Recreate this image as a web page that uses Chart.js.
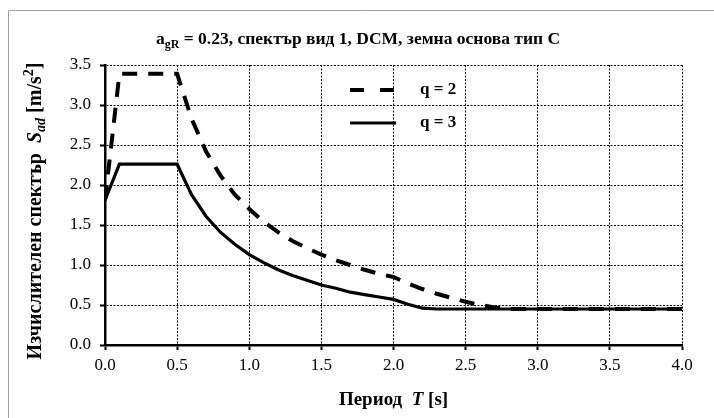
<!DOCTYPE html>
<html>
<head>
<meta charset="utf-8">
<script src="https://cdn.jsdelivr.net/npm/chart.js@4"></script>
<style>
    html, body { margin: 0; padding: 0; background: #fff; overflow: hidden; }
    canvas { display: block; }
</style>
</head>
<body>
<canvas id="spectrumChart" width="714" height="418"></canvas>
<script>
// Period T [s]
const periods = [0.0, 0.1, 0.2, 0.3, 0.4, 0.5, 0.6, 0.7, 0.8, 0.9, 1.0, 1.1, 1.2, 1.3, 1.4, 1.5, 1.6, 1.7, 1.8, 1.9, 2.0,
    2.1, 2.2, 2.3, 2.4, 2.5, 2.6, 2.7, 2.8, 2.9, 3.0, 3.2, 3.4, 3.6, 3.8, 4.0];

// Design spectrum Sad [m/s2], q = 2 (dashed)
const q2Values = [1.81, 3.39, 3.39, 3.39, 3.39, 3.39, 2.83, 2.42, 2.12, 1.88, 1.70, 1.54, 1.41, 1.30, 1.21, 1.13, 1.06, 1.00, 0.94, 0.89, 0.85,
    0.77, 0.70, 0.64, 0.59, 0.54, 0.50, 0.47, 0.45, 0.45, 0.45, 0.45, 0.45, 0.45, 0.45, 0.45];

// Design spectrum Sad [m/s2], q = 3 (solid)
const q3Values = [1.81, 2.26, 2.26, 2.26, 2.26, 2.26, 1.88, 1.61, 1.41, 1.26, 1.13, 1.03, 0.94, 0.87, 0.81, 0.75, 0.71, 0.66, 0.63, 0.60, 0.57,
    0.51, 0.46, 0.45, 0.45, 0.45, 0.45, 0.45, 0.45, 0.45, 0.45, 0.45, 0.45, 0.45, 0.45, 0.45];

const seriesLabels = ['q = 2', 'q = 3'];
const xTicks = [0, 0.5, 1.0, 1.5, 2.0, 2.5, 3.0, 3.5, 4.0];
const yTicks = [0, 0.5, 1.0, 1.5, 2.0, 2.5, 3.0, 3.5];

const serif = '"Liberation Serif", "Times New Roman", serif';

function toPoints(values) {
    return periods.map((t, i) => ({ x: t, y: values[i] }));
}

// draw a row of text pieces (bold / italic / sub / sup) centred at cx
function drawRich(ctx, parts, cx, cy, size) {
    const fontFor = p => {
        const s = p.sub || p.sup ? Math.round(size * 0.68) : size;
        return (p.italic ? 'italic ' : '') + 'bold ' + s + 'px ' + serif;
    };
    let total = 0;
    parts.forEach(p => { ctx.font = fontFor(p); total += ctx.measureText(p.t).width; });
    let x = cx - total / 2;
    ctx.textBaseline = 'alphabetic';
    ctx.textAlign = 'left';
    parts.forEach(p => {
        ctx.font = fontFor(p);
        let dy = 0;
        if (p.sub) dy = size * 0.2;
        if (p.sup) dy = -size * 0.38;
        ctx.fillText(p.t, x, cy + dy);
        x += ctx.measureText(p.t).width;
    });
}

// grey chart-area frame (open to the right and bottom, as in the source image)
const framePlugin = {
    id: 'framePlugin',
    beforeDraw(chart) {
        const ctx = chart.ctx;
        ctx.save();
        ctx.strokeStyle = '#a0a0a0';
        ctx.lineWidth = 1;
        ctx.beginPath();
        ctx.moveTo(8.5, chart.height);
        ctx.lineTo(8.5, 10.5);
        ctx.lineTo(chart.width, 10.5);
        ctx.stroke();
        ctx.restore();
    }
};

const textPlugin = {
    id: 'textPlugin',
    afterDraw(chart) {
        const ctx = chart.ctx;
        const area = chart.chartArea;
        ctx.save();
        ctx.fillStyle = '#000';

        // chart title
        drawRich(ctx, [
            { t: 'a' }, { t: 'gR', sub: true },
            { t: ' = 0.23, спектър вид 1, DCM, земна основа тип C' }
        ], 358, 44, 17.5);

        // x axis title
        drawRich(ctx, [
            { t: 'Период  ' }, { t: 'T', italic: true }, { t: ' [s]' }
        ], (area.left + area.right) / 2, 405, 19);

        // y axis title (rotated)
        ctx.save();
        ctx.translate(41, 211);
        ctx.rotate(-Math.PI / 2);
        drawRich(ctx, [
            { t: 'Изчислителен спектър  ' }, { t: 'S', italic: true }, { t: 'ad', italic: true, sub: true },
            { t: ' [m/s' }, { t: '2', sup: true }, { t: ']' }
        ], 0, 0, 20);
        ctx.restore();

        // legend
        const ds = chart.data.datasets;
        const rows = [90, 123];
        ds.forEach((d, i) => {
            const y = rows[i];
            ctx.beginPath();
            ctx.lineWidth = d.borderWidth;
            ctx.strokeStyle = d.borderColor;
            ctx.setLineDash(d.borderDash ? [14, 16] : []);
            ctx.moveTo(350, y);
            ctx.lineTo(396, y);
            ctx.stroke();
            ctx.setLineDash([]);
            ctx.font = 'bold 17px ' + serif;
            ctx.textAlign = 'left';
            ctx.textBaseline = 'middle';
            ctx.fillText(d.label, 420, y);
        });
        ctx.restore();
    }
};

const ctx = document.getElementById('spectrumChart');
new Chart(ctx, {
    type: 'scatter',
    data: {
        datasets: [{
            label: seriesLabels[0],
            data: toPoints(q2Values),
            showLine: true,
            borderColor: '#000',
            borderWidth: 4,
            borderDash: [15, 11],
            pointRadius: 0,
            tension: 0
        }, {
            label: seriesLabels[1],
            data: toPoints(q3Values),
            showLine: true,
            borderColor: '#000',
            borderWidth: 3.2,
            pointRadius: 0,
            tension: 0
        }]
    },
    options: {
        responsive: false,
        animation: false,
        layout: {
            padding: { left: 0, right: 32, top: 65, bottom: 0 }
        },
        plugins: {
            legend: { display: false },
            title: { display: false },
            tooltip: { enabled: false }
        },
        scales: {
            x: {
                type: 'linear',
                min: 0,
                max: 4,
                afterBuildTicks: axis => { axis.ticks = xTicks.map(v => ({ value: v })); },
                afterFit: axis => { axis.height = 73; },
                ticks: {
                    color: '#000',
                    padding: 5,
                    maxRotation: 0,
                    font: { family: serif, size: 17 },
                    callback: v => Number(v).toFixed(1)
                },
                grid: {
                    color: '#000',
                    lineWidth: 1,
                    drawTicks: true,
                    tickLength: 5,
                    tickColor: '#000',
                    tickWidth: 2
                },
                border: { display: true, color: '#000', width: 2.5, dash: [2, 1.5] }
            },
            y: {
                type: 'linear',
                min: 0,
                max: 3.5,
                afterBuildTicks: axis => { axis.ticks = yTicks.map(v => ({ value: v })); },
                afterFit: axis => { axis.width = 105; },
                ticks: {
                    color: '#000',
                    padding: 9,
                    font: { family: serif, size: 17 },
                    callback: v => Number(v).toFixed(1)
                },
                grid: {
                    color: '#000',
                    lineWidth: 1,
                    drawTicks: true,
                    tickLength: 5,
                    tickColor: '#000',
                    tickWidth: 2
                },
                border: { display: true, color: '#000', width: 2.5, dash: [2, 1.5] }
            }
        }
    },
    plugins: [framePlugin, textPlugin]
});
</script>
</body>
</html>
